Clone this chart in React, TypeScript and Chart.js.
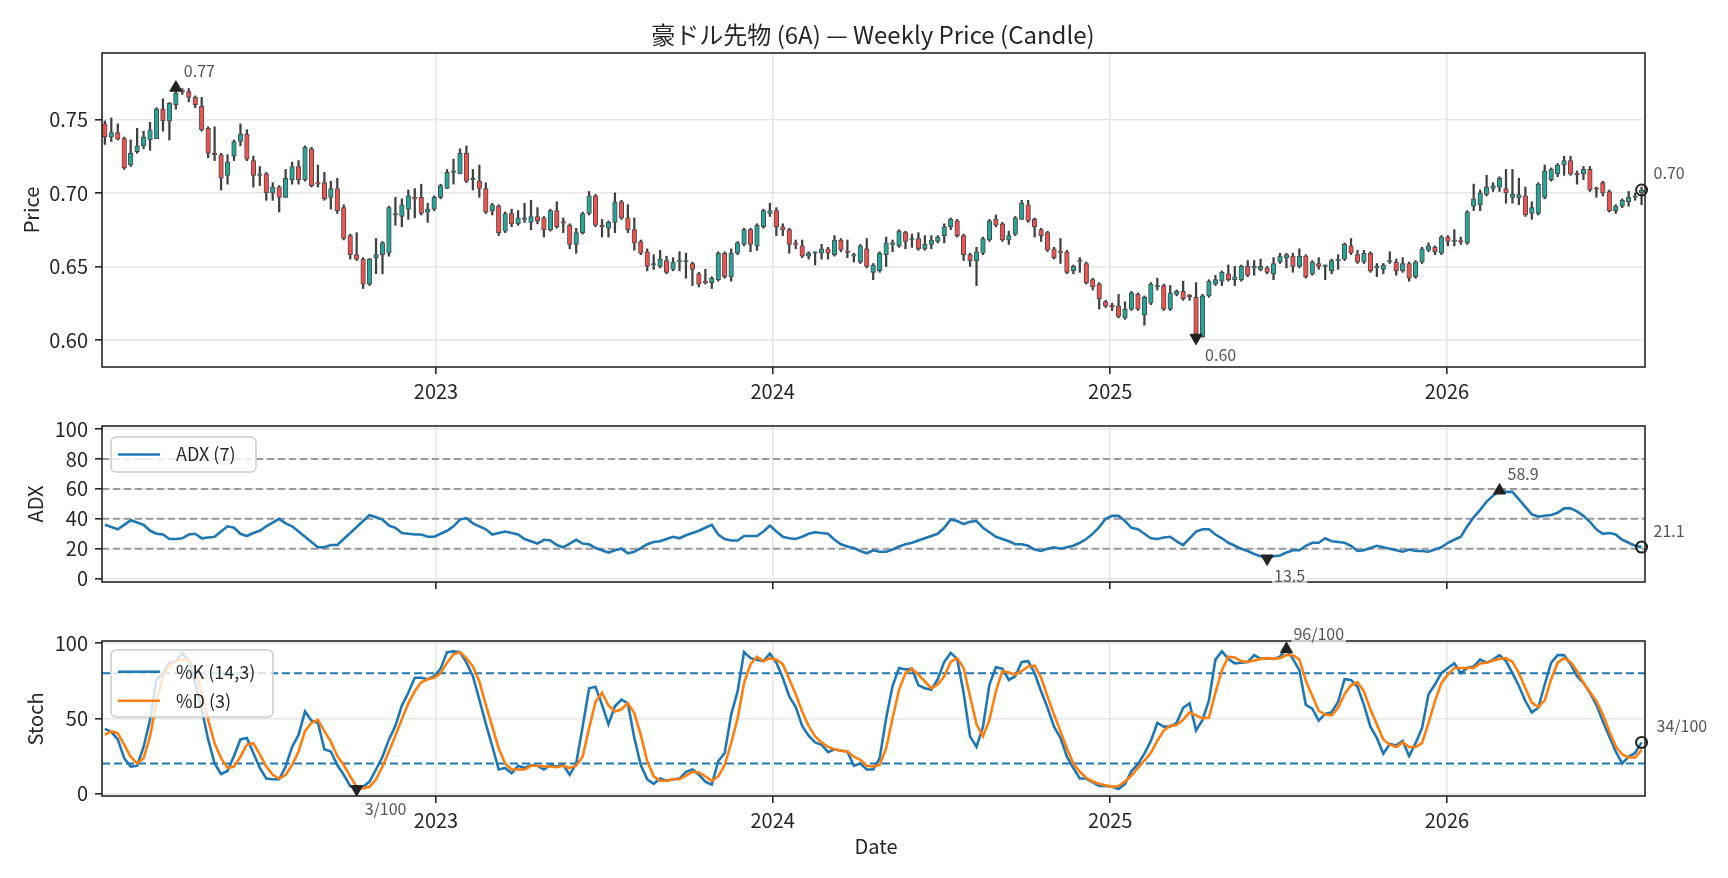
import React, { useEffect, useRef } from "react";
import Chart from "chart.js/auto";

// ---- data (weekly bars, Friday closes) ----
const firstWeek = Date.UTC(2022, 0, 7);
const WEEK_MS = 7 * 24 * 3600 * 1000;
const yearTicks = [2023, 2024, 2025, 2026];

const opens = [
  0.747, 0.738, 0.741, 0.737, 0.719, 0.728, 0.732, 0.736, 0.737, 0.757,
  0.749, 0.760, 0.770, 0.769, 0.765, 0.759, 0.744, 0.727, 0.726, 0.712,
  0.725, 0.735, 0.740, 0.722, 0.712, 0.713, 0.700, 0.704, 0.697, 0.709,
  0.718, 0.709, 0.730, 0.707, 0.707, 0.697, 0.703, 0.690, 0.671, 0.658,
  0.655, 0.638, 0.656, 0.658, 0.659, 0.685, 0.684, 0.689, 0.697, 0.697,
  0.687, 0.689, 0.697, 0.703, 0.714, 0.713, 0.727, 0.709, 0.708, 0.703,
  0.688, 0.691, 0.674, 0.686, 0.679, 0.682, 0.680, 0.684, 0.683, 0.675,
  0.688, 0.680, 0.678, 0.665, 0.673, 0.686, 0.698, 0.678, 0.676, 0.680,
  0.694, 0.683, 0.675, 0.667, 0.660, 0.651, 0.650, 0.654, 0.648, 0.653,
  0.653, 0.652, 0.645, 0.640, 0.639, 0.641, 0.659, 0.643, 0.659, 0.665,
  0.675, 0.664, 0.677, 0.686, 0.688, 0.677, 0.675, 0.666, 0.664, 0.657,
  0.659, 0.659, 0.662, 0.658, 0.668, 0.660, 0.657, 0.653, 0.662, 0.646,
  0.647, 0.658, 0.665, 0.664, 0.673, 0.668, 0.669, 0.662, 0.665, 0.667,
  0.671, 0.677, 0.681, 0.671, 0.658, 0.654, 0.659, 0.668, 0.682, 0.679,
  0.668, 0.672, 0.682, 0.692, 0.682, 0.675, 0.673, 0.662, 0.660, 0.660,
  0.647, 0.654, 0.652, 0.641, 0.638, 0.626, 0.623, 0.623, 0.615, 0.621,
  0.631, 0.617, 0.625, 0.636, 0.637, 0.621, 0.631, 0.633, 0.630, 0.629,
  0.602, 0.630, 0.638, 0.640, 0.645, 0.641, 0.641, 0.650, 0.649, 0.648,
  0.649, 0.645, 0.653, 0.656, 0.657, 0.650, 0.657, 0.645, 0.652, 0.650,
  0.647, 0.654, 0.655, 0.664, 0.658, 0.653, 0.659, 0.649, 0.648, 0.653,
  0.653, 0.647, 0.652, 0.643, 0.653, 0.661, 0.663, 0.659, 0.670, 0.667,
  0.667, 0.666, 0.691, 0.692, 0.699, 0.703, 0.704, 0.703, 0.697, 0.6966,
  0.698, 0.686, 0.686, 0.697, 0.709, 0.713, 0.719, 0.722, 0.713, 0.713,
  0.716, 0.703, 0.707, 0.701, 0.688, 0.691, 0.694, 0.697, 0.700,
];
const highs = [
  0.749, 0.751, 0.747, 0.738, 0.736, 0.744, 0.742, 0.748, 0.758, 0.764,
  0.7615, 0.7716, 0.771, 0.771, 0.766, 0.765, 0.745, 0.745, 0.727, 0.726,
  0.736, 0.747, 0.743, 0.725, 0.718, 0.714, 0.707, 0.705, 0.716, 0.721,
  0.722, 0.732, 0.731, 0.719, 0.714, 0.708, 0.710, 0.692, 0.672, 0.673,
  0.656, 0.6555, 0.669, 0.667, 0.691, 0.697, 0.696, 0.702, 0.703, 0.706,
  0.693, 0.698, 0.706, 0.716, 0.723, 0.730, 0.732, 0.716, 0.719, 0.707,
  0.693, 0.692, 0.687, 0.689, 0.688, 0.693, 0.695, 0.690, 0.684, 0.689,
  0.694, 0.683, 0.679, 0.676, 0.687, 0.701, 0.699, 0.682, 0.681, 0.700,
  0.695, 0.692, 0.683, 0.668, 0.662, 0.658, 0.661, 0.657, 0.656, 0.660,
  0.659, 0.653, 0.646, 0.648, 0.643, 0.660, 0.660, 0.662, 0.667, 0.676,
  0.676, 0.679, 0.689, 0.693, 0.690, 0.679, 0.676, 0.668, 0.668, 0.660,
  0.660, 0.665, 0.663, 0.671, 0.669, 0.668, 0.659, 0.665, 0.669, 0.652,
  0.660, 0.670, 0.668, 0.675, 0.674, 0.672, 0.673, 0.671, 0.671, 0.671,
  0.679, 0.683, 0.682, 0.672, 0.659, 0.663, 0.670, 0.682, 0.685, 0.680,
  0.674, 0.684, 0.695, 0.695, 0.683, 0.676, 0.674, 0.663, 0.669, 0.661,
  0.651, 0.656, 0.653, 0.642, 0.639, 0.627, 0.625, 0.631, 0.626, 0.633,
  0.632, 0.630, 0.639, 0.642, 0.638, 0.637, 0.634, 0.640, 0.631, 0.639,
  0.631, 0.641, 0.644, 0.647, 0.651, 0.650, 0.651, 0.654, 0.654, 0.655,
  0.650, 0.656, 0.659, 0.659, 0.659, 0.662, 0.658, 0.654, 0.656, 0.651,
  0.655, 0.658, 0.666, 0.669, 0.661, 0.661, 0.660, 0.652, 0.652, 0.660,
  0.655, 0.656, 0.653, 0.654, 0.663, 0.666, 0.664, 0.671, 0.671, 0.675,
  0.670, 0.688, 0.706, 0.702, 0.712, 0.707, 0.711, 0.716, 0.716, 0.710,
  0.704, 0.694, 0.707, 0.719, 0.717, 0.720, 0.725, 0.725, 0.715, 0.718,
  0.718, 0.704, 0.708, 0.702, 0.692, 0.696, 0.701, 0.700, 0.704,
];
const lows = [
  0.733, 0.735, 0.736, 0.716, 0.718, 0.727, 0.730, 0.729, 0.737, 0.742,
  0.736, 0.757, 0.767, 0.762, 0.758, 0.742, 0.724, 0.722, 0.702, 0.706,
  0.722, 0.732, 0.722, 0.704, 0.705, 0.695, 0.695, 0.687, 0.697, 0.706,
  0.706, 0.708, 0.704, 0.704, 0.695, 0.689, 0.686, 0.668, 0.655, 0.654,
  0.635, 0.637, 0.645, 0.645, 0.657, 0.678, 0.677, 0.682, 0.683, 0.685,
  0.680, 0.688, 0.696, 0.703, 0.706, 0.713, 0.707, 0.702, 0.697, 0.686,
  0.685, 0.671, 0.673, 0.677, 0.678, 0.680, 0.675, 0.679, 0.670, 0.674,
  0.676, 0.673, 0.662, 0.659, 0.672, 0.685, 0.677, 0.670, 0.670, 0.673,
  0.682, 0.673, 0.661, 0.658, 0.647, 0.648, 0.649, 0.645, 0.647, 0.647,
  0.642, 0.637, 0.636, 0.638, 0.635, 0.640, 0.642, 0.640, 0.658, 0.664,
  0.660, 0.661, 0.676, 0.684, 0.671, 0.671, 0.659, 0.662, 0.656, 0.655,
  0.651, 0.655, 0.655, 0.657, 0.660, 0.656, 0.653, 0.652, 0.649, 0.641,
  0.646, 0.650, 0.660, 0.663, 0.662, 0.663, 0.661, 0.661, 0.662, 0.666,
  0.666, 0.675, 0.670, 0.654, 0.650, 0.637, 0.658, 0.667, 0.677, 0.667,
  0.665, 0.671, 0.682, 0.680, 0.670, 0.667, 0.660, 0.655, 0.652, 0.645,
  0.645, 0.646, 0.638, 0.634, 0.621, 0.622, 0.620, 0.615, 0.614, 0.620,
  0.620, 0.610, 0.624, 0.634, 0.620, 0.620, 0.630, 0.627, 0.627, 0.6015,
  0.6018, 0.629, 0.637, 0.637, 0.640, 0.637, 0.640, 0.643, 0.644, 0.647,
  0.645, 0.641, 0.652, 0.649, 0.646, 0.649, 0.642, 0.644, 0.648, 0.641,
  0.645, 0.648, 0.654, 0.658, 0.652, 0.652, 0.646, 0.643, 0.645, 0.652,
  0.644, 0.646, 0.640, 0.642, 0.652, 0.660, 0.658, 0.658, 0.664, 0.664,
  0.665, 0.665, 0.688, 0.688, 0.698, 0.701, 0.701, 0.693, 0.693, 0.692,
  0.684, 0.682, 0.685, 0.696, 0.708, 0.711, 0.712, 0.712, 0.706, 0.709,
  0.701, 0.697, 0.698, 0.687, 0.686, 0.690, 0.691, 0.695, 0.692,
];
const closes = [
  0.738, 0.741, 0.7365, 0.717, 0.727, 0.732, 0.738, 0.743, 0.757, 0.749,
  0.761, 0.768, 0.769, 0.765, 0.760, 0.743, 0.727, 0.726, 0.710, 0.721,
  0.735, 0.740, 0.723, 0.712, 0.7125, 0.700, 0.704, 0.697, 0.710, 0.718,
  0.709, 0.731, 0.705, 0.706, 0.696, 0.703, 0.688, 0.669, 0.658, 0.655,
  0.638, 0.655, 0.658, 0.666, 0.690, 0.686, 0.692, 0.698, 0.696, 0.686,
  0.689, 0.697, 0.705, 0.714, 0.7145, 0.727, 0.708, 0.710, 0.703, 0.687,
  0.692, 0.673, 0.686, 0.679, 0.683, 0.6825, 0.684, 0.681, 0.675, 0.688,
  0.677, 0.6795, 0.665, 0.673, 0.686, 0.698, 0.678, 0.677, 0.680, 0.694,
  0.683, 0.675, 0.666, 0.659, 0.650, 0.6515, 0.655, 0.646, 0.653, 0.654,
  0.6535, 0.648, 0.638, 0.639, 0.642, 0.659, 0.643, 0.659, 0.666, 0.675,
  0.665, 0.678, 0.688, 0.688, 0.677, 0.675, 0.665, 0.665, 0.657, 0.659,
  0.6595, 0.662, 0.659, 0.668, 0.661, 0.6595, 0.658, 0.664, 0.650, 0.651,
  0.659, 0.666, 0.6655, 0.674, 0.667, 0.6685, 0.662, 0.665, 0.668, 0.670,
  0.677, 0.682, 0.671, 0.658, 0.654, 0.660, 0.669, 0.681, 0.678, 0.668,
  0.671, 0.683, 0.693, 0.681, 0.677, 0.671, 0.661, 0.656, 0.6595, 0.646,
  0.650, 0.6535, 0.639, 0.636, 0.628, 0.623, 0.6225, 0.616, 0.621, 0.632,
  0.621, 0.629, 0.638, 0.6365, 0.621, 0.632, 0.633, 0.628, 0.6295, 0.604,
  0.630, 0.640, 0.641, 0.646, 0.641, 0.643, 0.650, 0.644, 0.6495, 0.650,
  0.646, 0.652, 0.657, 0.658, 0.650, 0.657, 0.643, 0.653, 0.650, 0.6505,
  0.654, 0.6545, 0.665, 0.659, 0.653, 0.659, 0.647, 0.6495, 0.651, 0.6535,
  0.647, 0.652, 0.642, 0.653, 0.662, 0.664, 0.660, 0.670, 0.667, 0.6675,
  0.6665, 0.687, 0.696, 0.700, 0.704, 0.705, 0.710, 0.700, 0.699, 0.6989,
  0.685, 0.690, 0.706, 0.715, 0.716, 0.719, 0.722, 0.713, 0.7125, 0.716,
  0.702, 0.7025, 0.700, 0.688, 0.691, 0.695, 0.697, 0.6975, 0.702,
];

const adx = [
  36, 34.5, 33, 36, 39, 37.5, 36, 32, 30, 29.5,
  26.5, 26.5, 27, 29.5, 30, 27, 27.5, 28, 31.5, 35,
  34, 30, 28.5, 30.5, 32, 35, 37.5, 40, 37, 35,
  31.5, 28, 24.5, 21, 21, 22.5, 22.5, 26.5, 30.5, 34.5,
  38.5, 42.5, 41, 39.5, 35.5, 34, 30.5, 30, 29.5, 29.5,
  28, 28, 30, 32, 35, 39.5, 40.5, 37, 35, 33,
  29.5, 30.5, 31.5, 30.5, 29.5, 26.5, 25, 23.5, 26, 25.5,
  22.5, 21, 23.5, 26, 23.5, 23, 20.5, 19, 17.5, 19,
  20, 17, 18, 20.5, 23, 24.5, 25, 26.5, 28, 27,
  29, 30.5, 32, 34, 36, 29.5, 26.5, 25.5, 25.5, 28.5,
  28.5, 28.5, 31.5, 35.5, 31.5, 28, 27, 26.5, 28, 30,
  31, 30.5, 30, 26, 23, 21.5, 20.5, 18.5, 17, 19,
  18, 18, 19.5, 21.5, 23, 24, 25.5, 27, 28.5, 30,
  34, 39.5, 38.5, 36.5, 38, 38.5, 34, 31, 28, 26.5,
  25, 23, 23, 22, 19.5, 18.5, 20, 21, 20, 21,
  22, 24, 26.5, 30, 34.5, 40, 42, 42, 38.5, 34,
  33, 30, 27, 26.5, 27.5, 28, 25, 22.5, 27, 31.5,
  33, 33, 29.5, 27, 24, 22, 20, 18.5, 16.5, 15,
  13.5, 15, 15.5, 17.5, 19, 19, 22, 24, 24, 27,
  25, 24.5, 24, 22, 18.5, 19, 20.5, 22, 21, 20,
  19, 18, 19.5, 18.5, 18.5, 18, 19.5, 21, 24, 26,
  28, 35, 41, 46, 51.5, 55.5, 58.9, 58, 58, 53,
  48, 43, 41.5, 42, 42.5, 44, 47, 47, 45, 42,
  38, 33, 30, 30.5, 29.5, 26, 24, 22, 21.1,
];

const stochK = [
  43, 41, 36, 23.5, 18, 18.5, 31, 49, 76, 80,
  87, 88, 93.5, 88, 73.5, 56, 36, 20, 13, 15,
  25, 36, 37, 27, 17, 10, 9.5, 9.5, 18, 31,
  39, 54.5, 48.5, 47, 29.5, 28, 19, 12.5, 5, 3,
  4.5, 8, 16, 24.5, 36, 45, 58.5, 67, 77, 77,
  76, 78, 83, 94, 94.5, 94, 87, 78, 62.5, 46.5,
  31.5, 16, 17, 13.5, 18.5, 17, 19, 18.5, 16, 19,
  18, 19, 12.5, 20, 44.5, 70, 71, 59, 46, 58,
  62.5, 60, 37, 19, 9.5, 6.5, 10, 8.5, 9.5, 10,
  14.5, 16, 12.5, 8, 6, 21.5, 27, 52.5, 68, 94,
  90, 89, 88, 93, 87, 77, 64.5, 57.5, 45, 38.5,
  34, 32.5, 27.5, 29.5, 28.5, 28, 18.5, 20, 16, 16,
  23.5, 50, 71.5, 83.5, 82.5, 83, 72, 70, 69, 76,
  87.5, 93.5, 89.5, 67, 38, 31, 44.5, 72.5, 84, 83,
  75.5, 78, 87.5, 88, 80, 68, 57, 44.5, 37, 24.5,
  17, 10, 10, 7.5, 5, 5, 4.5, 3, 6.5, 15,
  19.5, 26.5, 35, 47, 44.5, 44.5, 47, 57, 60, 42,
  49, 62, 89, 94.5, 89.5, 86.5, 87, 87.5, 92, 89.5,
  90, 89.5, 91, 96, 89.5, 82, 59, 56.5, 48.5, 53,
  54, 61, 76, 75.5, 71, 59, 44.5, 37, 26.5, 33,
  32, 35, 25, 33.5, 43.5, 66, 72.5, 80, 83.5, 86.5,
  80, 83.5, 84.5, 89, 87, 89, 92, 88, 80, 71.5,
  61.5, 54, 57, 72.5, 87, 92, 92, 86, 78, 73.5,
  67, 59, 48, 38, 28, 20, 24.5, 27, 34,
];

const stochD = [
  39, 41.5, 40, 32.5, 24.5, 20, 23.5, 38, 61, 78,
  85, 88, 89, 89, 82.5, 67, 49, 33.5, 23.5, 17,
  18, 24.5, 32.5, 33.5, 26, 18, 12.5, 10, 12.5, 19,
  28, 41.5, 47, 49, 41.5, 34.5, 25, 19, 11.5, 4.5,
  3.5, 4.5, 9.5, 18, 28, 38.5, 49.5, 60, 68, 74,
  76, 77, 80, 87, 92.5, 94, 90, 84.5, 74.5, 59,
  44.5, 30, 20, 16, 16, 16, 18.5, 18.5, 18, 18,
  17.5, 18.5, 17, 18.5, 24.5, 43.5, 61, 67, 58.5, 54.5,
  56, 60, 53.5, 39, 21.5, 11.5, 8.5, 8.5, 9.5, 9.5,
  12, 14.5, 14, 11.5, 8.5, 11.5, 19, 33.5, 50, 73.5,
  86, 91, 88, 90, 89, 86, 76, 66, 54.5, 45,
  38, 34, 31, 29.5, 28.5, 28, 24.5, 22.5, 18.5, 18,
  19, 30, 50, 69, 80, 83, 79, 74.5, 70, 72.5,
  78, 87.5, 90, 83.5, 64.5, 46, 38, 49, 68, 81.5,
  80.5, 79, 81.5, 84.5, 85, 77, 64.5, 52.5, 41.5, 30,
  20, 14.5, 10.5, 8, 6.5, 5.5, 4.5, 5, 8, 12,
  17, 22, 27, 35, 42, 45, 45.5, 49, 54, 52,
  50, 50.5, 67, 82, 91, 90.5, 88, 87.5, 88.5, 89.5,
  90, 89.5, 90, 92, 92, 89, 75, 65, 55, 52.5,
  52, 57, 66, 72, 74, 68, 56, 46, 36, 32.5,
  31, 34, 31, 31, 33.5, 47, 61.5, 73.5, 79, 83.5,
  83.5, 83.5, 83.5, 86.5, 87, 88.5, 89.5, 90, 87.5, 80,
  70, 60.5, 57.5, 62, 76, 87, 90, 87.5, 81.5, 73.5,
  67.5, 61.5, 52.5, 41.5, 31.5, 26, 24, 24, 29,
];

const priceTicks = [0.6, 0.65, 0.7, 0.75];
const adxTicks = [0, 20, 40, 60, 80, 100];
const adxLevels = [20, 40, 60, 80];
const stochTicks = [0, 50, 100];
const stochLevels = [20, 80];

const weeks = closes.map((_, i) => firstWeek + i * WEEK_MS);

// ---- look ----
const FONT = '"Noto Sans CJK JP", "Noto Sans", sans-serif';
const INK = "#262626";
const GRID = "#e6e6e6";
const NOTE = "#555555";
const MARK = "#222222";
const BLUE = "#1f77b4";
const ORANGE = "#ff7f0e";
const UP = "#26a69a";
const DOWN = "#ef5350";
const EDGE = "#4a4a4a";

const W = 1728;
const PLOT_LEFT = 102;
const PLOT_RIGHT = 1645;
const X_MIN = Date.UTC(2022, 0, 3, 22);
const X_MAX = Date.UTC(2026, 7, 3, 17);

// canvases overlap a little; each one is transparent
const PANELS = {
  price: { top: 0, height: 410, areaTop: 53, areaBottom: 367 },
  adx: { top: 404, height: 208, areaTop: 22, areaBottom: 178 },
  stoch: { top: 612, height: 266, areaTop: 29, areaBottom: 184 },
};

const argMax = (a: number[]) => a.reduce((b, v, i) => (v > a[b] ? i : b), 0);
const argMin = (a: number[]) => a.reduce((b, v, i) => (v < a[b] ? i : b), 0);

type Note = { x: number; y: number; text: string; dx: number; dy: number };
type Label = { text: string; x: number; y: number; size: number; rotate?: boolean };
type Legend = { box: number[]; rows: { text: string; color: string; y: number }[] };
type Decor = {
  refs?: number[];
  refColor?: string;
  refDash?: number[];
  legend?: Legend;
  notes: Note[];
  labels: Label[];
};

function decor(d: Decor) {
  return {
    id: "decor",
    beforeDatasetsDraw(chart: any) {
      if (!d.refs) return;
      const { ctx, chartArea: a, scales } = chart;
      ctx.save();
      ctx.strokeStyle = d.refColor;
      ctx.lineWidth = 2;
      ctx.setLineDash(d.refDash || [7, 4]);
      for (const v of d.refs) {
        const y = scales.y.getPixelForValue(v);
        ctx.beginPath();
        ctx.moveTo(a.left, y);
        ctx.lineTo(a.right, y);
        ctx.stroke();
      }
      ctx.restore();
    },
    afterDatasetsDraw(chart: any) {
      const { ctx, chartArea: a, scales } = chart;
      ctx.save();
      ctx.strokeStyle = INK;
      ctx.lineWidth = 1.6;
      ctx.strokeRect(a.left, a.top, a.right - a.left, a.bottom - a.top);

      ctx.font = `16px ${FONT}`;
      ctx.textBaseline = "middle";
      ctx.textAlign = "left";
      for (const n of d.notes) {
        const px = scales.x.getPixelForValue(n.x) + n.dx;
        const py = scales.y.getPixelForValue(n.y) + n.dy;
        const w = ctx.measureText(n.text).width;
        ctx.fillStyle = "rgba(255,255,255,0.7)";
        ctx.fillRect(px - 2, py - 10, w + 4, 20);
        ctx.fillStyle = NOTE;
        ctx.fillText(n.text, px, py);
      }

      if (d.legend) {
        const [bx, by, bw, bh] = d.legend.box;
        ctx.beginPath();
        ctx.roundRect(bx, by, bw, bh, 5);
        ctx.fillStyle = "rgba(255,255,255,0.8)";
        ctx.fill();
        ctx.strokeStyle = "#cccccc";
        ctx.lineWidth = 1.5;
        ctx.stroke();
        ctx.font = `18px ${FONT}`;
        for (const r of d.legend.rows) {
          ctx.strokeStyle = r.color;
          ctx.lineWidth = 2.6;
          ctx.beginPath();
          ctx.moveTo(118, r.y);
          ctx.lineTo(160, r.y);
          ctx.stroke();
          ctx.fillStyle = INK;
          ctx.fillText(r.text, 176, r.y);
        }
      }
      ctx.restore();
    },
    afterDraw(chart: any) {
      const { ctx } = chart;
      ctx.save();
      ctx.fillStyle = INK;
      ctx.textAlign = "center";
      ctx.textBaseline = "middle";
      for (const l of d.labels) {
        ctx.font = `${l.size}px ${FONT}`;
        if (l.rotate) {
          ctx.save();
          ctx.translate(l.x, l.y);
          ctx.rotate(-Math.PI / 2);
          ctx.fillText(l.text, 0, 0);
          ctx.restore();
        } else {
          ctx.fillText(l.text, l.x, l.y);
        }
      }
      ctx.restore();
    },
  };
}

const gridOpts = {
  color: GRID,
  lineWidth: 1.6,
  tickLength: 7,
  tickColor: INK,
  tickWidth: 1.6,
  offset: false,
};

function xScale(p: any, showLabels: boolean) {
  return {
    type: "linear",
    position: "bottom",
    min: X_MIN,
    max: X_MAX,
    offset: false,
    afterBuildTicks: (s: any) => {
      s.ticks = yearTicks.map((y) => ({ value: Date.UTC(y, 0, 1) }));
    },
    afterFit: (s: any) => {
      s.height = p.height - p.areaBottom;
    },
    ticks: {
      autoSkip: false,
      maxRotation: 0,
      padding: 5,
      color: INK,
      font: { family: FONT, size: 20 },
      callback: (v: number) => (showLabels ? String(new Date(v).getUTCFullYear()) : ""),
    },
    grid: gridOpts,
    border: { display: false },
  };
}

function yScale(min: number, max: number, ticks: number[], fmt: (v: number) => string) {
  return {
    type: "linear",
    position: "left",
    min,
    max,
    afterBuildTicks: (s: any) => {
      s.ticks = ticks.map((v) => ({ value: v }));
    },
    afterFit: (s: any) => {
      s.width = PLOT_LEFT;
    },
    ticks: {
      padding: 7,
      color: INK,
      font: { family: FONT, size: 20 },
      callback: (v: number) => fmt(v),
    },
    grid: gridOpts,
    border: { display: false },
  };
}

function baseOptions(p: any, x: any, y: any) {
  return {
    responsive: false,
    animation: false,
    events: [],
    layout: { padding: { top: p.areaTop, right: W - PLOT_RIGHT, left: 0, bottom: 0 } },
    plugins: { legend: { display: false }, tooltip: { enabled: false } },
    scales: { x, y },
  };
}

function marker(x: number, y: number, kind: "up" | "down" | "last") {
  return {
    type: "line",
    data: [{ x, y }],
    showLine: false,
    pointStyle: kind === "last" ? "circle" : "triangle",
    pointRotation: kind === "down" ? 180 : 0,
    pointRadius: kind === "last" ? 5.5 : 7,
    pointBackgroundColor: kind === "last" ? "rgba(0,0,0,0)" : MARK,
    pointBorderColor: MARK,
    pointBorderWidth: kind === "last" ? 2 : 1,
    clip: false,
    order: 0,
  };
}

function priceConfig(): any {
  const p = PANELS.price;
  const hi = argMax(highs);
  const lo = argMin(lows);
  const last = closes.length - 1;
  return {
    type: "bar",
    data: {
      datasets: [
        {
          data: weeks.map((x, i) => ({ x, y: [lows[i], highs[i]] })),
          backgroundColor: "#404040",
          barThickness: 1.6,
          grouped: false,
          order: 3,
        },
        {
          data: weeks.map((x, i) => ({ x, y: [opens[i], closes[i]] })),
          backgroundColor: closes.map((c, i) => (c >= opens[i] ? UP : DOWN)),
          borderColor: EDGE,
          borderWidth: 1,
          borderSkipped: false,
          barThickness: 4.6,
          minBarLength: 1.5,
          grouped: false,
          order: 2,
        },
        marker(weeks[hi], highs[hi], "up"),
        marker(weeks[lo], lows[lo], "down"),
        marker(weeks[last], closes[last], "last"),
      ],
    },
    options: baseOptions(p, xScale(p, true), yScale(0.5816, 0.7952, priceTicks, (v) => v.toFixed(2))),
    plugins: [
      decor({
        notes: [
          { x: weeks[hi], y: highs[hi], text: highs[hi].toFixed(2), dx: 8, dy: -17 },
          { x: weeks[lo], y: lows[lo], text: lows[lo].toFixed(2), dx: 9, dy: 17 },
          { x: weeks[last], y: closes[last], text: closes[last].toFixed(2), dx: 12, dy: -17 },
        ],
        labels: [
          { text: "豪ドル先物 (6A) — Weekly Price (Candle)", x: 873, y: 35, size: 24 },
          { text: "Price", x: 31, y: 210, size: 20, rotate: true },
        ],
      }),
    ],
  };
}

function adxConfig(): any {
  const p = PANELS.adx;
  const hi = argMax(adx);
  const lo = argMin(adx);
  const last = adx.length - 1;
  return {
    type: "line",
    data: {
      datasets: [
        {
          data: weeks.map((x, i) => ({ x, y: adx[i] })),
          borderColor: BLUE,
          borderWidth: 2.6,
          pointRadius: 0,
          tension: 0,
          order: 1,
        },
        marker(weeks[hi], adx[hi], "up"),
        marker(weeks[lo], adx[lo], "down"),
        marker(weeks[last], adx[last], "last"),
      ],
    },
    options: baseOptions(p, xScale(p, false), yScale(-2.2, 102, adxTicks, (v) => String(v))),
    plugins: [
      decor({
        refs: adxLevels,
        refColor: "#9a9a9a",
        refDash: [7, 4],
        legend: { box: [111, 33, 145, 35], rows: [{ text: "ADX (7)", color: BLUE, y: 50.5 }] },
        notes: [
          { x: weeks[hi], y: adx[hi], text: adx[hi].toFixed(1), dx: 8, dy: -17 },
          { x: weeks[lo], y: adx[lo], text: adx[lo].toFixed(1), dx: 7, dy: 17 },
          { x: weeks[last], y: adx[last], text: adx[last].toFixed(1), dx: 12, dy: -16 },
        ],
        labels: [{ text: "ADX", x: 35, y: 100, size: 20, rotate: true }],
      }),
    ],
  };
}

function stochConfig(): any {
  const p = PANELS.stoch;
  const hi = argMax(stochK);
  const lo = argMin(stochK);
  const last = stochK.length - 1;
  const frac = (v: number) => `${Math.round(v)}/100`;
  return {
    type: "line",
    data: {
      datasets: [
        {
          data: weeks.map((x, i) => ({ x, y: stochK[i] })),
          borderColor: BLUE,
          borderWidth: 2.6,
          pointRadius: 0,
          tension: 0,
          order: 2,
        },
        {
          data: weeks.map((x, i) => ({ x, y: stochD[i] })),
          borderColor: ORANGE,
          borderWidth: 2.6,
          pointRadius: 0,
          tension: 0,
          order: 1,
        },
        marker(weeks[hi], stochK[hi], "up"),
        marker(weeks[lo], stochK[lo], "down"),
        marker(weeks[last], stochK[last], "last"),
      ],
    },
    options: baseOptions(p, xScale(p, true), yScale(-1.6, 101.4, stochTicks, (v) => String(v))),
    plugins: [
      decor({
        refs: stochLevels,
        refColor: BLUE,
        refDash: [8, 4],
        legend: {
          box: [111, 38, 162, 67],
          rows: [
            { text: "%K (14,3)", color: BLUE, y: 59.7 },
            { text: "%D (3)", color: ORANGE, y: 88.7 },
          ],
        },
        notes: [
          { x: weeks[hi], y: stochK[hi], text: frac(stochK[hi]), dx: 7, dy: -15 },
          { x: weeks[lo], y: stochK[lo], text: frac(stochK[lo]), dx: 8, dy: 20 },
          { x: weeks[last], y: stochK[last], text: frac(stochK[last]), dx: 15, dy: -17 },
        ],
        labels: [
          { text: "Stoch", x: 35, y: 107, size: 20, rotate: true },
          { text: "Date", x: 876, y: 234, size: 20 },
        ],
      }),
    ],
  };
}

const Panel = ({ panel, build }: { panel: any; build: () => any }) => {
  const canvasRef: any = useRef(null);
  const chartInstance: any = useRef(null);

  useEffect(() => {
    if (canvasRef.current) {
      chartInstance.current = new Chart(canvasRef.current, build());
    }
    return () => {
      if (chartInstance.current) {
        chartInstance.current.destroy();
      }
    };
  }, []);

  return (
    <canvas
      ref={canvasRef}
      width={W}
      height={panel.height}
      style={{ position: "absolute", left: 0, top: panel.top, width: W, height: panel.height }}
    />
  );
};

const App = () => {
  useEffect(() => {
    document.body.style.margin = "0";
  }, []);

  return (
    <div style={{ position: "relative", width: W, height: 878, background: "#fff", overflow: "hidden" }}>
      <Panel panel={PANELS.price} build={priceConfig} />
      <Panel panel={PANELS.adx} build={adxConfig} />
      <Panel panel={PANELS.stoch} build={stochConfig} />
    </div>
  );
};

export default App;
